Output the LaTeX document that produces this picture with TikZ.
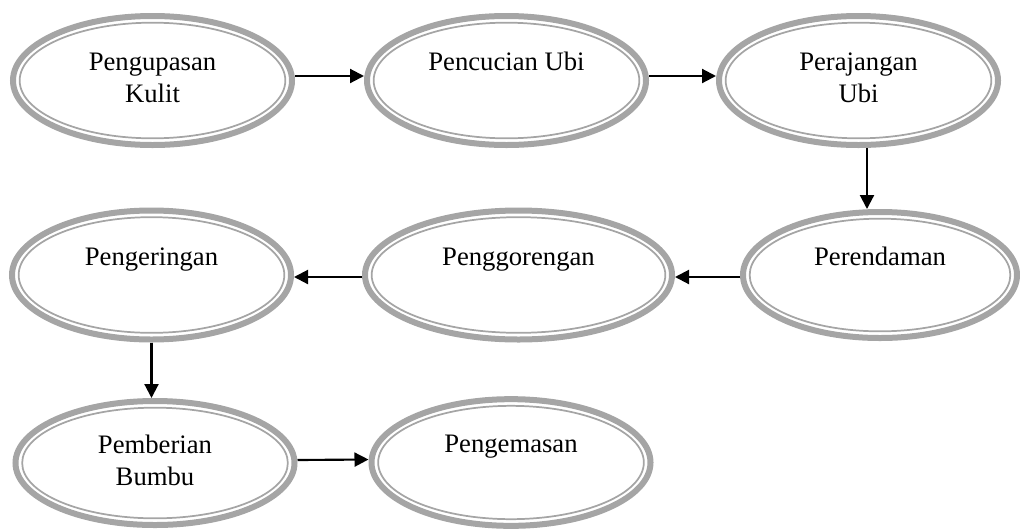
\documentclass[tikz,border=0pt]{standalone}
\usepackage{fontspec}
\setmainfont{Liberation Serif}
\usepackage{xcolor}
\usetikzlibrary{shapes,calc,arrows.meta}
\usetikzlibrary{positioning}
\definecolor{bandgray}{RGB}{165,165,165}

\begin{document}
\begin{tikzpicture}[x=0.75pt,y=0.75pt,yscale=-1,xscale=1,
  proses/.style={ellipse, draw=bandgray, line width=4.5pt, inner sep=0pt,
    minimum width=209.25pt, minimum height=96.75pt, align=center,
    font=\fontsize{20}{24}\selectfont,
    path picture={\draw[bandgray, line width=1.3pt]
      let \p1=($(path picture bounding box.north east)-(path picture bounding box.center)$) in
      (path picture bounding box.center) ellipse [x radius={abs(\x1)-5pt}, y radius={abs(\y1)-5pt}];}},
  alur/.style={draw=black, line width=1.6pt, -{Triangle[length=10.5pt,width=10.5pt]}}]
%set diagram to the size of the page
\useasboundingbox (0,0) rectangle (1020,529);

%Shape: Ellipse
\node[proses] (kupas) at (152.5,80.5) {\strut Pengupasan\\\strut Kulit};
%Shape: Ellipse
\node[proses] (cuci) at (506.5,80.5) {\strut Pencucian Ubi\\\strut};
%Shape: Ellipse
\node[proses] (rajang) at (858.5,80.5) {\strut Perajangan\\\strut Ubi};
%Shape: Ellipse
\node[proses, minimum width=205.5pt, minimum height=94.5pt] (rendam) at (880,275) {\strut Perendaman\\\strut};
%Shape: Ellipse
\node[proses, minimum width=230.25pt] (goreng) at (518.5,275) {\strut Penggorengan\\\strut};
%Shape: Ellipse
\node[proses] (kering) at (151.5,275) {\strut Pengeringan\\\strut};
%Shape: Ellipse
\node[proses, minimum height=93pt] (bumbu) at (155,463) {\strut Pemberian\\\strut Bumbu};
%Shape: Ellipse
\node[proses, minimum height=95pt] (kemas) at (511,462.5) {\strut Pengemasan\\\strut};

%Straight Lines
\draw[alur] ($(kupas.east)+(0,-4.5)$) -- ($(cuci.west)+(0,-4.5)$);
%Straight Lines
\draw[alur] ($(cuci.east)+(0,-4.5)$) -- ($(rajang.west)+(0,-4.5)$);
%Straight Lines
\draw[alur] ($(rajang.south)+(8.5,0)$) -- ($(rendam.north)+(-13,0)$);
%Straight Lines
\draw[alur] ($(rendam.west)+(0,2)$) -- ($(goreng.east)+(0,2)$);
%Straight Lines
\draw[alur] ($(goreng.west)+(0,2)$) -- ($(kering.east)+(0,2)$);
%Straight Lines
\draw[alur] (kering.south) -- (kering.south |- bumbu.north);
%Straight Lines
\draw[alur] ($(bumbu.east)+(0,-3)$) -- ($(kemas.west)+(0,-3)$);

\end{tikzpicture}
\end{document}
